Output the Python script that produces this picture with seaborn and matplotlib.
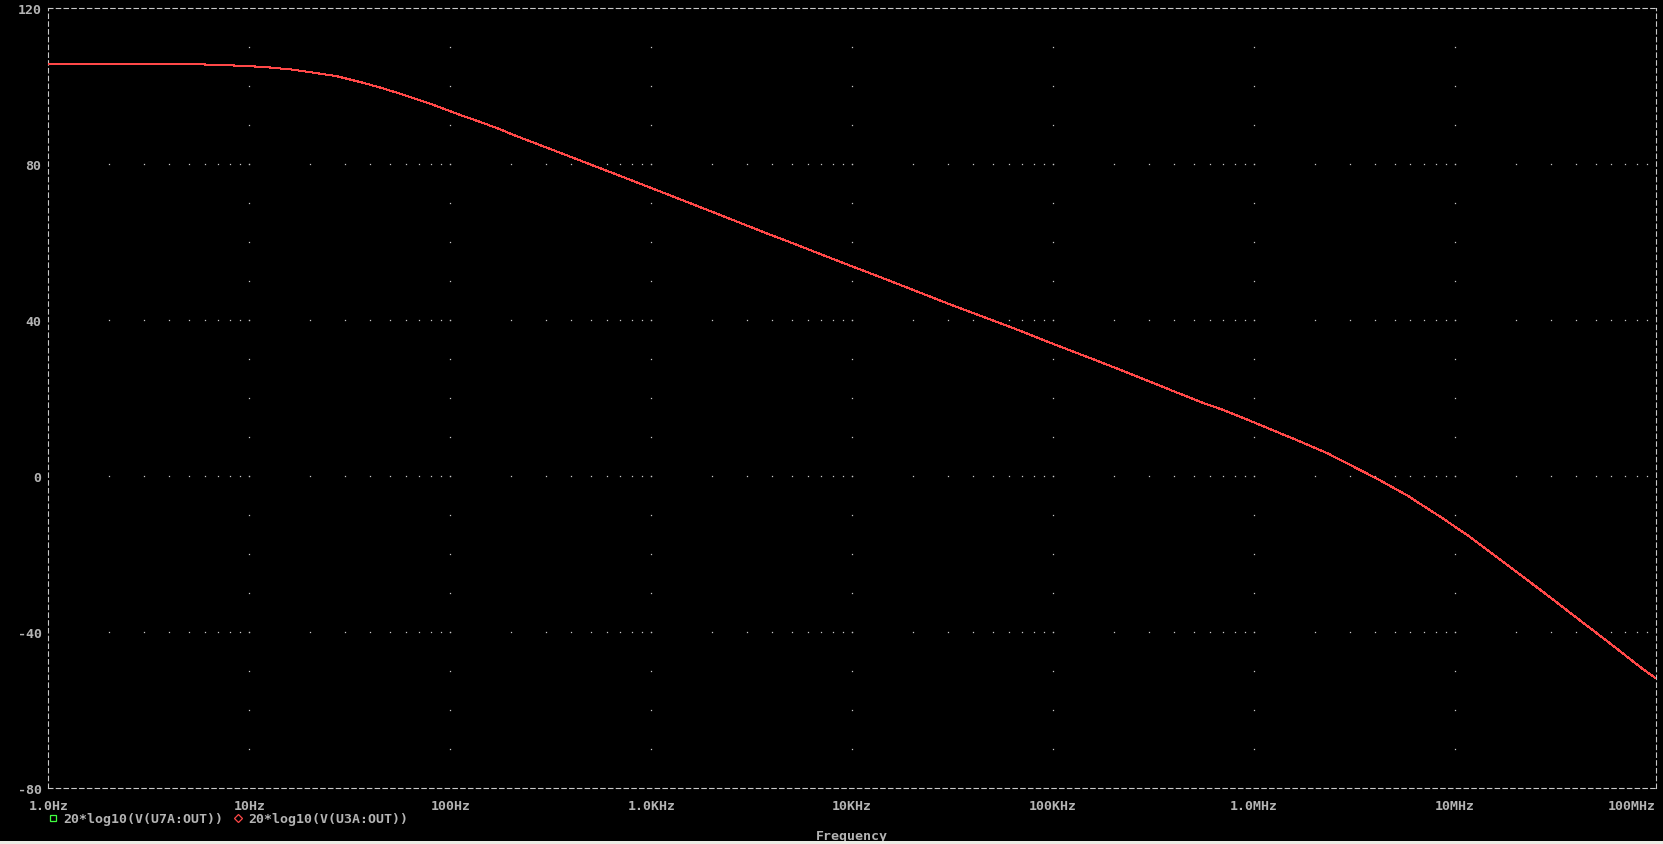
import numpy as np
import pandas as pd
import matplotlib
matplotlib.use("Agg")
import matplotlib.pyplot as plt
import seaborn as sns
from matplotlib.lines import Line2D
from matplotlib.patches import Rectangle

# frequency points (Hz)
freq_hz = [1, 3, 5.9, 8.7, 10.9, 12.8, 14.7, 16.2, 20.8, 27.1, 35.5, 44.6, 56.1,
           78.6, 111, 140, 176, 209, 379, 684, 1236, 2275, 3740, 5080, 6380,
           10100, 13700, 20000, 30500, 43100, 63100, 92500, 135500, 158000,
           249000, 410000, 556000, 700000, 986000, 1.42e6, 1.62e6, 2.33e6,
           4.1e6, 5.82e6, 8.69e6, 1.18e7, 1.36e7, 2.84e7, 4.16e7, 5.87e7,
           8.6e7, 1.0e8]
# gain in dB, both probes give the same curve
gain_db = [105.8, 105.8, 105.6, 105.3, 105.05, 104.8, 104.5, 104.3, 103.5, 102.6,
           101.1, 99.7, 98.1, 95.6, 92.7, 90.9, 89.0, 87.4, 82.3, 77.2, 72.05,
           66.7, 62.3, 59.7, 57.7, 53.7, 51.1, 47.8, 44.1, 41.2, 38.0, 34.6,
           31.3, 30.0, 26.0, 21.5, 18.8, 17.0, 13.9, 10.5, 9.3, 5.8, -0.7,
           -5.05, -10.85, -15.5, -17.9, -30.3, -36.9, -42.8, -49.5, -51.9]
trace_names = ["20*log10(V(U7A:OUT))", "20*log10(V(U3A:OUT))"]
trace_colors = ["#40ff40", "#ff4848"]

x_ticks = [1, 10, 100, 1e3, 1e4, 1e5, 1e6, 1e7, 1e8]
x_labels = ["1.0Hz", "10Hz", "100Hz", "1.0KHz", "10KHz", "100KHz", "1.0MHz", "10MHz", "100MHz"]
y_ticks = [-80, -40, 0, 40, 80, 120]
y_labels = ["-80", "-40", "0", "40", "80", "120"]

text_col = "#b4b4b4"
frame_col = "#c8c8c8"
mono = ["DejaVu Sans Mono"]

sns.set_theme(style="dark")
plt.rcParams["axes.unicode_minus"] = False
plt.rcParams["font.family"] = mono

df = pd.concat([
    pd.DataFrame({"freq": freq_hz, "db": gain_db, "trace": name})
    for name in trace_names
])

fig = plt.figure(figsize=(16.63, 8.45), dpi=100, facecolor="black")
ax = fig.add_axes([0.02916, 0.06627, 0.96663, 0.92272])
ax.set_facecolor("black")

# dotted grid: dots at every 10 dB on decade lines, every minor decade tick on 40 dB lines
decades = np.array(x_ticks)
minors = np.concatenate([d * np.arange(2, 10) for d in decades[:-1]])
gx, gy = [], []
for d in decades[1:-1]:
    for v in np.arange(-70, 120, 10):
        gx.append(d); gy.append(v)
for v in y_ticks[1:-1]:
    for m in np.concatenate([minors, decades[1:-1]]):
        gx.append(m); gy.append(v)
ax.plot(gx, gy, linestyle="none", marker="s", markersize=0.9, markeredgewidth=0,
        color="#c8c8c8", zorder=1)

sns.lineplot(data=df, x="freq", y="db", hue="trace", palette=trace_colors,
             sort=False, legend=False, linewidth=0.75, antialiased=False,
             ax=ax, zorder=3)

ax.set_xscale("log")
ax.set_xlim(1, 1e8)
ax.set_ylim(-80, 120)
ax.set_xticks(x_ticks)
ax.set_xticklabels(x_labels)
ax.minorticks_off()
ax.set_yticks(y_ticks)
ax.set_yticklabels(y_labels)
ax.xaxis.get_ticklabels()[-1].set_horizontalalignment("right")
ax.tick_params(axis="x", direction="in", length=3, width=0.8, color=frame_col,
               pad=8, labelcolor=text_col, labelsize=9.5)
ax.tick_params(axis="y", direction="out", length=3, width=0.8, color=frame_col,
               pad=2, labelcolor=text_col, labelsize=9.5)
for lab in ax.get_xticklabels() + ax.get_yticklabels():
    lab.set_fontweight("bold")
ax.grid(False)

for sp in ax.spines.values():
    sp.set_visible(True)
    sp.set_color(frame_col)
    sp.set_linewidth(0.8)
    sp.set_linestyle((0, (4, 3)))

ax.set_xlabel("Frequency", color=text_col, fontsize=9.5, fontweight="bold", labelpad=12)
ax.set_ylabel("")

handles = [
    Line2D([], [], linestyle="none", marker="s", markersize=5, markerfacecolor="none",
           markeredgecolor=trace_colors[0], markeredgewidth=0.9),
    Line2D([], [], linestyle="none", marker="D", markersize=4, markerfacecolor="none",
           markeredgecolor=trace_colors[1], markeredgewidth=0.9),
]
leg = fig.legend(handles, trace_names, loc="center left", ncol=2,
                 bbox_to_anchor=(47.5 / 1663, 1 - 820 / 845), frameon=False,
                 handlelength=0.8, handletextpad=0.4, columnspacing=0.7,
                 borderpad=0, borderaxespad=0,
                 prop={"family": mono, "size": 9.5, "weight": "bold"},
                 labelcolor=text_col)

fig.patches.append(Rectangle((0, 0), 1, 3.5 / 845, transform=fig.transFigure,
                             facecolor="#ecebe4", edgecolor="none"))

fig.savefig("out.png", dpi=100, facecolor="black")
